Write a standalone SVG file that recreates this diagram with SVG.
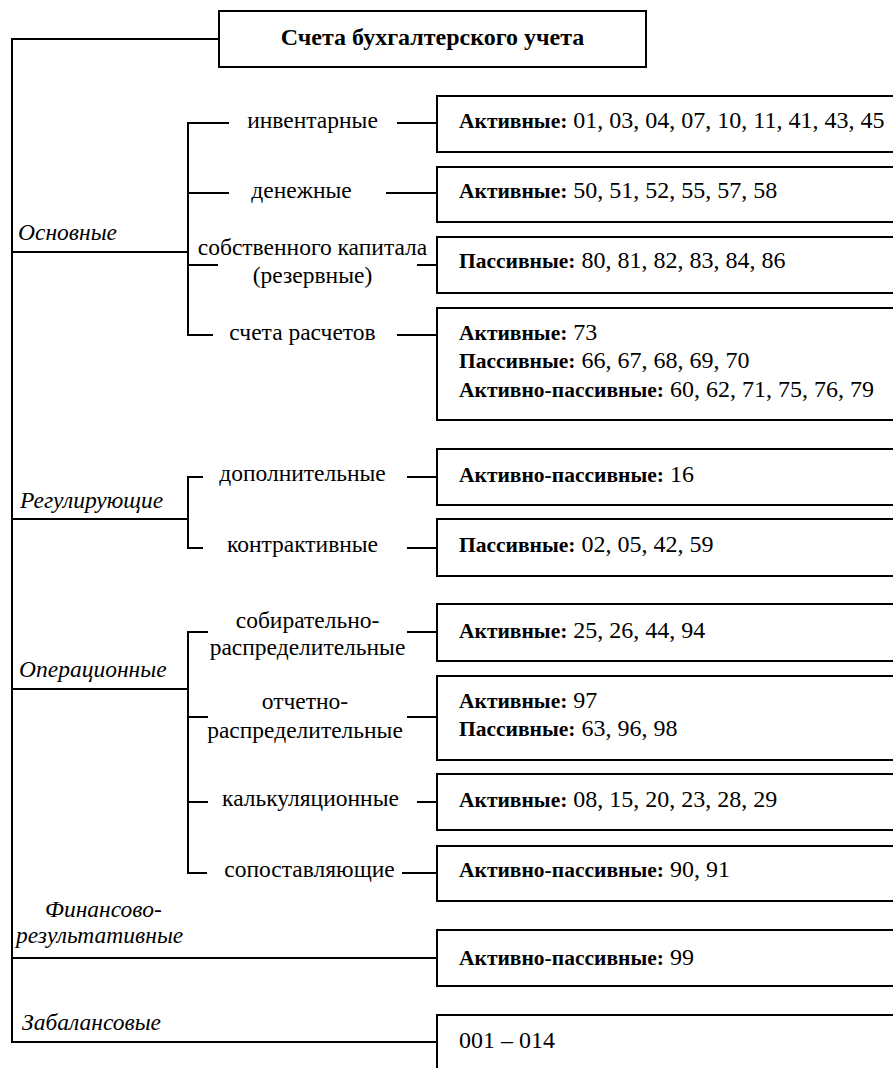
<svg xmlns="http://www.w3.org/2000/svg" width="893" height="1068" viewBox="0 0 893 1068">
<style>
.ln{fill:none;stroke:#000;stroke-width:2}
.bx{fill:#fff;stroke:#000;stroke-width:2}
.t{font-family:"Liberation Serif","Times New Roman",serif;fill:#000}
.title{font-size:24px;font-weight:bold}
.cat{font-size:23.5px;font-style:italic}
.br{font-size:23.5px}
.bt{font-size:24px}
.b{font-weight:bold;font-size:21.5px}
</style>
<rect width="893" height="1068" fill="#fff"/>
<g id="connectors">
<path class="ln" d="M219,39 H12 V1042 H437"/>
<path class="ln" d="M12,252 H188"/>
<path class="ln" d="M229,123 H188 V335 H213"/>
<path class="ln" d="M188,193 H229"/>
<path class="ln" d="M188,265 H218"/>
<path class="ln" d="M397,123 H437"/>
<path class="ln" d="M386,193 H437"/>
<path class="ln" d="M417,265 H437"/>
<path class="ln" d="M397,335 H437"/>
<path class="ln" d="M12,519 H188"/>
<path class="ln" d="M203,477 H188 V548 H203"/>
<path class="ln" d="M407,477 H437"/>
<path class="ln" d="M407,548 H437"/>
<path class="ln" d="M12,689 H188"/>
<path class="ln" d="M208,632 H188 V873 H207"/>
<path class="ln" d="M188,717 H208"/>
<path class="ln" d="M188,802 H208"/>
<path class="ln" d="M407,632 H437"/>
<path class="ln" d="M407,717 H437"/>
<path class="ln" d="M417,802 H437"/>
<path class="ln" d="M402,873 H437"/>
<path class="ln" d="M12,958 H437"/>
</g>
<g id="title">
<rect class="bx" x="219" y="11" width="427" height="56"/>
<text class="t title" x="432.5" y="45" text-anchor="middle">Счета бухгалтерского учета</text>
</g>
<g id="cat-osnovnye"><text class="t cat" x="18" y="240">Основные</text></g>
<g id="cat-reg"><text class="t cat" x="20" y="508">Регулирующие</text></g>
<g id="cat-oper"><text class="t cat" x="19" y="677">Операционные</text></g>
<g id="cat-fin"><text class="t cat" x="45" y="917">Финансово-</text><text class="t cat" x="16" y="943">результативные</text></g>
<g id="cat-zabal"><text class="t cat" x="22" y="1030">Забалансовые</text></g>
<g id="br-inv"><text class="t br" x="312.5" y="128" text-anchor="middle">инвентарные</text></g>
<g id="br-den"><text class="t br" x="301.5" y="198" text-anchor="middle">денежные</text></g>
<g id="br-sobst"><text class="t br" x="312.5" y="255" text-anchor="middle">собственного капитала</text><text class="t br" x="312.5" y="283" text-anchor="middle">(резервные)</text></g>
<g id="br-rasch"><text class="t br" x="302.5" y="340" text-anchor="middle">счета расчетов</text></g>
<g id="br-dop"><text class="t br" x="302.5" y="481" text-anchor="middle">дополнительные</text></g>
<g id="br-kontr"><text class="t br" x="302.5" y="552" text-anchor="middle">контрактивные</text></g>
<g id="br-sobir"><text class="t br" x="307.5" y="628" text-anchor="middle">собирательно-</text><text class="t br" x="307.5" y="655" text-anchor="middle">распределительные</text></g>
<g id="br-otch"><text class="t br" x="305" y="709" text-anchor="middle">отчетно-</text><text class="t br" x="305" y="738" text-anchor="middle">распределительные</text></g>
<g id="br-kalk"><text class="t br" x="310.5" y="806" text-anchor="middle">калькуляционные</text></g>
<g id="br-sopost"><text class="t br" x="309.5" y="877" text-anchor="middle">сопоставляющие</text></g>
<g id="box1"><rect class="bx" x="437" y="96" width="470" height="56"/><text class="t bt" x="459" y="128"><tspan class="b">Активные:</tspan> 01, 03, 04, 07, 10, 11, 41, 43, 45</text></g>
<g id="box2"><rect class="bx" x="437" y="167" width="470" height="55"/><text class="t bt" x="459" y="198"><tspan class="b">Активные:</tspan> 50, 51, 52, 55, 57, 58</text></g>
<g id="box3"><rect class="bx" x="437" y="237" width="470" height="56"/><text class="t bt" x="459" y="268"><tspan class="b">Пассивные:</tspan> 80, 81, 82, 83, 84, 86</text></g>
<g id="box4"><rect class="bx" x="437" y="308" width="470" height="112"/><text class="t bt" x="459" y="340"><tspan class="b">Активные:</tspan> 73</text><text class="t bt" x="459" y="368"><tspan class="b">Пассивные:</tspan> 66, 67, 68, 69, 70</text><text class="t bt" x="459" y="397"><tspan class="b">Активно-пассивные:</tspan> 60, 62, 71, 75, 76, 79</text></g>
<g id="box5"><rect class="bx" x="437" y="449" width="470" height="56"/><text class="t bt" x="459" y="482"><tspan class="b">Активно-пассивные:</tspan> 16</text></g>
<g id="box6"><rect class="bx" x="437" y="519" width="470" height="57"/><text class="t bt" x="459" y="552"><tspan class="b">Пассивные:</tspan> 02, 05, 42, 59</text></g>
<g id="box7"><rect class="bx" x="437" y="604" width="470" height="57"/><text class="t bt" x="459" y="638"><tspan class="b">Активные:</tspan> 25, 26, 44, 94</text></g>
<g id="box8"><rect class="bx" x="437" y="676" width="470" height="84"/><text class="t bt" x="459" y="708"><tspan class="b">Активные:</tspan> 97</text><text class="t bt" x="459" y="736"><tspan class="b">Пассивные:</tspan> 63, 96, 98</text></g>
<g id="box9"><rect class="bx" x="437" y="774" width="470" height="56"/><text class="t bt" x="459" y="807"><tspan class="b">Активные:</tspan> 08, 15, 20, 23, 28, 29</text></g>
<g id="box10"><rect class="bx" x="437" y="846" width="470" height="55"/><text class="t bt" x="459" y="877"><tspan class="b">Активно-пассивные:</tspan> 90, 91</text></g>
<g id="box11"><rect class="bx" x="437" y="930" width="470" height="56"/><text class="t bt" x="459" y="965"><tspan class="b">Активно-пассивные:</tspan> 99</text></g>
<g id="box12"><rect class="bx" x="437" y="1015" width="470" height="70"/><text class="t bt" x="459" y="1048">001 – 014</text></g>
</svg>
